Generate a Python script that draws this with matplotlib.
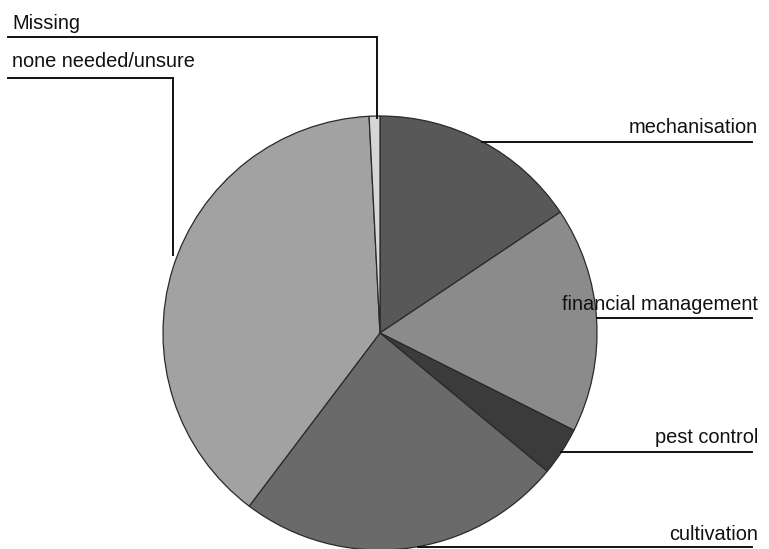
import matplotlib
matplotlib.use("Agg")
import matplotlib.pyplot as plt

categories = ["mechanisation", "financial management", "pest control",
              "cultivation", "none needed/unsure", "Missing"]
values = [15.6, 16.8, 3.6, 24.3, 38.9, 0.8]
colors = ["#585858", "#8b8b8b", "#3b3b3b", "#6a6a6a", "#a2a2a2", "#d6d6d6"]

plt.rcParams['font.family'] = ['Liberation Sans', 'DejaVu Sans']

W, H = 769, 549
fig = plt.figure(figsize=(W / 100, H / 100), dpi=100)
ax = fig.add_axes([0, 0, 1, 1])

cx, cy, r = 380, 333, 217
ax.pie(values, colors=colors, startangle=270, counterclock=True,
       center=(cx, cy), radius=r,
       wedgeprops=dict(edgecolor="#2a2a2a", linewidth=0.9), frame=False)

ax.set_xlim(0, W)
ax.set_ylim(H, 0)
ax.set_aspect('auto')
ax.axis('off')

fs = 14.4
lw = 1.4
# left labels (text x, baseline y, leader: horizontal y, x end, vertical end y)
left = {
    "Missing": (12, 29, 37, 377, 118),
    "none needed/unsure": (12, 67, 78, 173, 255),
}
for lab, (tx, ty, ly, lx, vy) in left.items():
    ax.text(tx, ty, lab, fontsize=fs, ha='left', va='baseline', color='#111111', zorder=5)
    ax.plot([8, lx, lx], [ly, ly, vy], color='#111111', lw=lw, zorder=4,
            solid_joinstyle='miter')

right = {
    "mechanisation": (133, 142, 482),
    "financial management": (310, 318, 597),
    "pest control": (443, 452, 561),
    "cultivation": (540, 547, 418),
}
for lab, (ty, ly, lx) in right.items():
    ax.text(758, ty, lab, fontsize=fs, ha='right', va='baseline', color='#111111', zorder=5)
    ax.plot([lx, 752], [ly, ly], color='#111111', lw=lw, zorder=4)

fig.savefig("out.png", dpi=100, facecolor='white')
